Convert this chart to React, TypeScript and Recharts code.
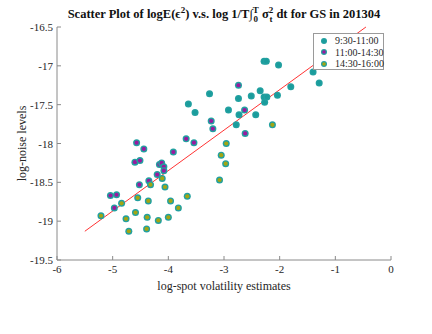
import { ScatterChart, Scatter, XAxis, YAxis, ReferenceLine, Legend, Label } from 'recharts'

// log-spot volatility (x) vs log-noise level (y)
const morningX = [-2.28, -2.24, -2.02, -1.40, -1.29, -1.80, -3.64, -3.26, -3.52, -2.35, -2.74, -2.51, -2.28, -2.23, -2.04, -2.27, -2.92, -2.73, -2.43, -2.78]
const morningY = [-16.94, -16.94, -16.99, -17.08, -17.22, -17.27, -17.49, -17.36, -17.60, -17.32, -17.42, -17.39, -17.40, -17.40, -17.38, -17.47, -17.57, -17.63, -17.63, -17.76]

const middayX = [-2.74, -2.63, -3.23, -3.20, -2.62, -4.57, -4.44, -3.68, -3.54, -3.91, -4.60, -4.51, -4.16, -4.12, -4.08, -4.08, -4.20, -4.35, -4.52, -5.04, -4.93, -4.97]
const middayY = [-17.25, -17.57, -17.71, -17.81, -17.87, -17.99, -18.07, -17.94, -17.99, -18.11, -18.24, -18.22, -18.27, -18.25, -18.30, -18.35, -18.40, -18.48, -18.53, -18.67, -18.66, -18.83]

const closeX = [-2.13, -2.96, -3.05, -2.97, -3.08, -4.11, -4.32, -4.06, -4.55, -4.36, -3.96, -3.66, -3.82, -4.84, -5.21, -4.59, -4.76, -4.38, -4.18, -4.00, -4.71, -4.39]
const closeY = [-17.76, -18.00, -18.15, -18.26, -18.47, -18.45, -18.53, -18.56, -18.70, -18.74, -18.74, -18.68, -18.83, -18.77, -18.93, -18.89, -18.97, -18.95, -18.99, -18.95, -19.13, -19.10]

const fitX = [-5.5, -0.45]
const fitY = [-19.13, -16.5]

const xTicks = [-6, -5, -4, -3, -2, -1, 0]
const yTicks = [-19.5, -19, -18.5, -18, -17.5, -17, -16.5]

const seriesNames = ['9:30-11:00', '11:00-14:30', '14:30-16:00']

const EDGE = '#22a0a0'
const FILLS = ['#1a9c9c', '#9a1a9e', '#a3a512']
const FONT = '"Liberation Serif", "Times New Roman", serif'
const AXIS = '#8a8a8a'
const TEXT = '#262626'

const toPoints = (xs: number[], ys: number[]) => xs.map((x, i) => ({ x, y: ys[i] }))

const Dot = (fill: string) => (props: any) => {
    const { cx, cy } = props
    if (cx == null || cy == null) return <g />
    return (
        <g>
            <circle cx={cx} cy={cy} r={3.5} fill={EDGE} />
            <circle cx={cx} cy={cy} r={2.1} fill={fill} />
        </g>
    )
}

const tickText = { fontFamily: FONT, fontSize: 11, fill: TEXT }

const XTick = ({ x, y, payload }: any) => (
    <g>
        <line x1={x} x2={x} y1={y} y2={y - 4} stroke={AXIS} />
        <text x={x} y={y + 13} textAnchor="middle" style={tickText}>{payload.value}</text>
    </g>
)

const YTick = ({ x, y, payload }: any) => (
    <g>
        <line x1={x} x2={x + 4} y1={y} y2={y} stroke={AXIS} />
        <text x={x - 4} y={y + 4} textAnchor="end" style={tickText}>{payload.value}</text>
    </g>
)

const LegendBox = () => (
    <div style={{ width: 71, height: 37, border: '1px solid #9a9a9a', background: '#fff', boxSizing: 'border-box', paddingTop: 1 }}>
        {seriesNames.map((name, i) => (
            <div key={name} style={{ display: 'flex', alignItems: 'center', height: 11.6, fontFamily: FONT, fontSize: 10, color: TEXT }}>
                <svg width={21} height={10} style={{ flexShrink: 0 }}>
                    <circle cx={10} cy={5} r={3} fill={EDGE} />
                    <circle cx={10} cy={5} r={1.8} fill={FILLS[i]} />
                </svg>
                <span style={{ whiteSpace: 'nowrap' }}>{name}</span>
            </div>
        ))}
    </div>
)

const Title = () => (
    <div style={{ position: 'absolute', left: 0, top: 2, width: 448, textAlign: 'center', fontFamily: FONT, fontWeight: 'bold', fontSize: 12.5, color: '#111', whiteSpace: 'nowrap', lineHeight: '16px' }}>
        Scatter Plot of logE(ϵ<sup style={{ fontSize: 9 }}>2</sup>) v.s. log 1/T∫
        <span style={{ display: 'inline-flex', flexDirection: 'column', fontSize: 9, lineHeight: '9px', verticalAlign: 'middle' }}>
            <span>T</span><span>0</span>
        </span>
        {' '}σ
        <span style={{ display: 'inline-flex', flexDirection: 'column', fontSize: 9, lineHeight: '9px', verticalAlign: 'middle' }}>
            <span>2</span><span>t</span>
        </span>
        {' '}dt for GS in 201304
    </div>
)

export default function App() {
    return (
        <div style={{ position: 'absolute', left: 0, top: 0, width: 432, height: 334, background: '#fff' }}>
            <Title />
            <ScatterChart width={432} height={334} margin={{ top: 27, right: 41, bottom: 0, left: 0 }}>
                <XAxis
                    type="number"
                    dataKey="x"
                    domain={[-6, 0]}
                    ticks={xTicks}
                    height={37}
                    tickSize={0}
                    tickMargin={0}
                    tick={<XTick />}
                    stroke={AXIS}
                    allowDataOverflow
                >
                    <Label value="log-spot volatility estimates" position="insideBottom" offset={7} style={{ fontFamily: FONT, fontSize: 12, fill: TEXT }} />
                </XAxis>
                <YAxis
                    type="number"
                    dataKey="y"
                    domain={[-19.5, -16.5]}
                    ticks={yTicks}
                    width={57}
                    tickSize={0}
                    tickMargin={0}
                    tick={<YTick />}
                    stroke={AXIS}
                    allowDataOverflow
                >
                    <Label value="log-noise levels" angle={-90} position="insideLeft" offset={22} style={{ textAnchor: 'middle', fontFamily: FONT, fontSize: 12, fill: TEXT }} />
                </YAxis>
                <ReferenceLine
                    segment={[{ x: fitX[0], y: fitY[0] }, { x: fitX[1], y: fitY[1] }]}
                    stroke="#ff3333"
                    strokeWidth={1}
                />
                <Scatter name={seriesNames[0]} data={toPoints(morningX, morningY)} shape={Dot(FILLS[0])} isAnimationActive={false} />
                <Scatter name={seriesNames[1]} data={toPoints(middayX, middayY)} shape={Dot(FILLS[1])} isAnimationActive={false} />
                <Scatter name={seriesNames[2]} data={toPoints(closeX, closeY)} shape={Dot(FILLS[2])} isAnimationActive={false} />
                <Legend content={<LegendBox />} wrapperStyle={{ position: 'absolute', left: 313, top: 33, width: 71 }} />
            </ScatterChart>
        </div>
    )
}
